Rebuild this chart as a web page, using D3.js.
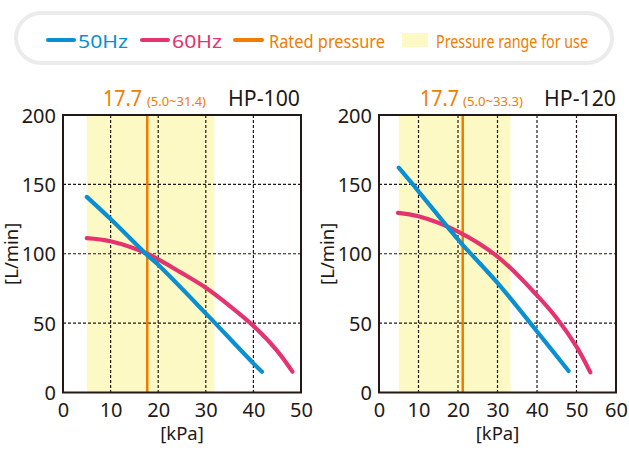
<!DOCTYPE html>
<html><head><meta charset="utf-8">
<script src="https://cdn.jsdelivr.net/npm/d3@7"></script>
<style>body{margin:0;background:#fff}svg{display:block}text{font-family:"Noto Sans",sans-serif}</style>
</head><body><svg id="c" width="629" height="458"></svg>
<script>
const models = ["HP-100", "HP-120"];
const xMax = [50, 60];
const yTicks = [0, 50, 100, 150, 200];
const xTicks100 = [0, 10, 20, 30, 40, 50];
const xTicks120 = [0, 10, 20, 30, 40, 50, 60];
const ratedLabel = ["17.7", "17.7"];
const ratedPos = [17.7, 21.2];
const rangeLabel = ["(5.0~31.4)", "(5.0~33.3)"];
const rangeLo = [5.0, 5.0];
const rangeHi = [31.8, 33.3];
const hp100_50 = [[5,141],[10,125],[17.7,99],[20,92],[30,57],[40,21],[41.8,15]];
const hp100_60 = [[5,111.3],[10,109],[17.7,100],[25,86],[30,75.5],[35,62.5],[40,48],[45,30],[48.2,15]];
const hp120_50 = [[5,162],[10,145],[18,117],[21,107],[30,79],[40,44],[48,15.5]];
const hp120_60 = [[4.8,129.5],[10,127],[20,116],[30,98],[40,70],[45,53.5],[50,33],[53.5,14.5]];
const legendLabels = ["50Hz", "60Hz", "Rated pressure", "Pressure range for use"];

const C50 = "#0a8fd3", C60 = "#e4346f", CR = "#ef7d00", CY = "#fdf9c4", INK = "#231815";
const svg = d3.select("#c");

// legend
const lg = svg.append("g");
lg.append("rect").attr("x", 16).attr("y", 13).attr("width", 596).attr("height", 50).attr("rx", 25)
  .attr("fill", "#fff").attr("stroke", "#ebebeb").attr("stroke-width", 4);
const items = [
  {t: legendLabels[0], c: C50, sym: "line", sx: 48, sw: 26, tx: 78, tw: 50},
  {t: legendLabels[1], c: C60, sym: "line", sx: 142, sw: 26, tx: 172, tw: 50},
  {t: legendLabels[2], c: CR, sym: "line", sx: 235, sw: 27, tx: 269, tw: 116},
  {t: legendLabels[3], c: CR, sym: "rect", sx: 402, sw: 26, tx: 436, tw: 152}
];
items.forEach(d => {
  if (d.sym === "line") lg.append("line").attr("x1", d.sx).attr("x2", d.sx + d.sw).attr("y1", 40).attr("y2", 40)
    .attr("stroke", d.c).attr("stroke-width", 4).attr("stroke-linecap", "round");
  else lg.append("rect").attr("x", d.sx).attr("y", 33).attr("width", d.sw).attr("height", 14).attr("fill", CY);
  lg.append("text").attr("x", d.tx).attr("y", 48).attr("font-size", 18.5).attr("fill", d.c)
    .attr("textLength", d.tw).attr("lengthAdjust", "spacingAndGlyphs").text(d.t);
});

const panels = [
  {left: 63, right: 301, xm: xMax[0], xt: xTicks100, s50: hp100_50, s60: hp100_60, i: 0,
   lab: {rx: 103, rw: 39, gx: 147, gw: 59, hx: 228, hw: 72}},
  {left: 379, right: 616, xm: xMax[1], xt: xTicks120, s50: hp120_50, s60: hp120_60, i: 1,
   lab: {rx: 420, rw: 39, gx: 463, gw: 60, hx: 544, hw: 72}}
];
const yTop = 115, yBot = 392.5;

panels.forEach(p => {
  const x = d3.scaleLinear().domain([0, p.xm]).range([p.left, p.right]);
  const y = d3.scaleLinear().domain([0, 200]).range([yBot, yTop]);
  const g = svg.append("g");
  g.append("rect").attr("x", x(rangeLo[p.i])).attr("y", yTop).attr("width", x(rangeHi[p.i]) - x(rangeLo[p.i]))
    .attr("height", yBot - yTop).attr("fill", CY);
  g.selectAll(".vg").data(p.xt.filter(v => v > 0 && v < p.xm)).join("line")
    .attr("x1", d => x(d)).attr("x2", d => x(d)).attr("y1", yTop).attr("y2", yBot)
    .attr("stroke", INK).attr("stroke-width", 1.2).attr("stroke-dasharray", "3,2");
  g.selectAll(".hg").data(yTicks.filter(v => v > 0 && v < 200)).join("line")
    .attr("x1", p.left).attr("x2", p.right).attr("y1", d => y(d)).attr("y2", d => y(d))
    .attr("stroke", INK).attr("stroke-width", 1.2).attr("stroke-dasharray", "3,2");
  g.append("line").attr("x1", x(ratedPos[p.i])).attr("x2", x(ratedPos[p.i])).attr("y1", yTop).attr("y2", yBot)
    .attr("stroke", CR).attr("stroke-width", 2.5);
  const line = d3.line().x(d => x(d[0])).y(d => y(d[1])).curve(d3.curveCatmullRom.alpha(0.5));
  g.append("path").datum(p.s60).attr("d", line).attr("fill", "none").attr("stroke", C60)
    .attr("stroke-width", 4.2).attr("stroke-linecap", "round");
  g.append("path").datum(p.s50).attr("d", line).attr("fill", "none").attr("stroke", C50)
    .attr("stroke-width", 4.2).attr("stroke-linecap", "round");
  g.append("rect").attr("x", p.left).attr("y", yTop).attr("width", p.right - p.left).attr("height", yBot - yTop)
    .attr("fill", "none").attr("stroke", INK).attr("stroke-width", 2);
  const ax = d3.axisBottom(x).tickValues(p.xt).tickSize(0).tickPadding(0);
  const axg = g.append("g").attr("transform", `translate(0,${yBot})`).call(ax);
  axg.select(".domain").remove();
  axg.selectAll("text").attr("font-size", 20).attr("fill", INK).attr("dy", 0).attr("y", 24)
    .attr("font-family", "Noto Sans");
  const ay = d3.axisLeft(y).tickValues(yTicks).tickSize(0).tickPadding(0);
  const ayg = g.append("g").attr("transform", `translate(${p.left - 7},0)`).call(ay);
  ayg.select(".domain").remove();
  ayg.selectAll("text").attr("font-size", 20).attr("fill", INK).attr("dy", "0.36em").attr("x", 0)
    .attr("font-family", "Noto Sans");
  g.append("text").attr("x", (p.left + p.right) / 2).attr("y", 440).attr("text-anchor", "middle")
    .attr("font-size", 18.5).attr("fill", INK).text("[kPa]");
  g.append("text").attr("transform", `translate(${p.left - 45},${(yTop + yBot) / 2}) rotate(-90)`)
    .attr("text-anchor", "middle").attr("font-size", 18.5).attr("fill", INK).text("[L/min]");
  g.append("text").attr("x", p.lab.rx).attr("y", 106).attr("font-size", 21).attr("fill", CR)
    .attr("textLength", p.lab.rw).attr("lengthAdjust", "spacingAndGlyphs").text(ratedLabel[p.i]);
  g.append("text").attr("x", p.lab.gx).attr("y", 106).attr("font-size", 12).attr("fill", CR)
    .attr("textLength", p.lab.gw).attr("lengthAdjust", "spacingAndGlyphs").text(rangeLabel[p.i]);
  g.append("text").attr("x", p.lab.hx).attr("y", 106).attr("font-size", 22).attr("fill", INK)
    .attr("textLength", p.lab.hw).attr("lengthAdjust", "spacingAndGlyphs").text(models[p.i]);
});
</script></body></html>
